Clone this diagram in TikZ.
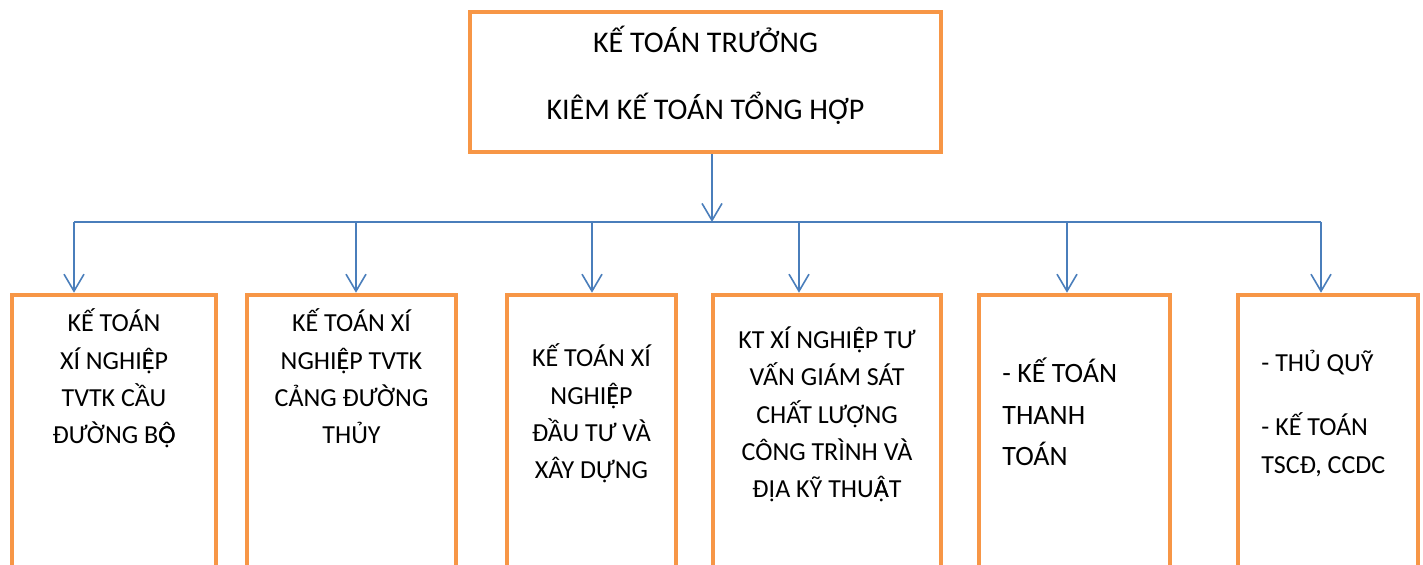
\documentclass[tikz,border=0pt]{standalone}
\usepackage{fontspec}
\setmainfont{Carlito}
\usetikzlibrary{arrows.meta,positioning}
\definecolor{orange6}{RGB}{247,150,70}
\definecolor{blue1}{RGB}{74,126,187}
% circumflex + dot below, stacked from two glyphs
\newcommand{\vnstack}[2]{{\ooalign{#1\cr#2\cr}}}

\begin{document}
\begin{tikzpicture}
          [x=0.5pt,y=-0.5pt,
            box/.style={rectangle,draw=orange6,line width=2.25pt,fill=white,inner sep=0pt},
            word/.style={inner sep=0pt,font=\fontsize{13}{18.7}\selectfont},
            arr/.style={draw=blue1,line width=0.8pt,-{Straight Barb[length=8.5pt,width=10pt]}},
          ]
          \useasboundingbox (0,0) rectangle (1423,565);

          % boxes
          \node[box,minimum width=235.5pt,minimum height=70pt] (top) at (705.5,82) {};
          \node[box,minimum width=102pt,minimum height=152.5pt] (b1) at (114,447.5) {};
          \node[box,minimum width=104.5pt,minimum height=152.5pt] (b2) at (351.5,447.5) {};
          \node[box,minimum width=84.5pt,minimum height=152.5pt] (b3) at (591.5,447.5) {};
          \node[box,minimum width=114pt,minimum height=152.5pt] (b4) at (827,447.5) {};
          \node[box,minimum width=95.5pt,minimum height=152.5pt] (b5) at (1074.5,447.5) {};
          \node[box,minimum width=90pt,minimum height=152.5pt] (b6) at (1328,447.5) {};

          % texts (anchored at the baseline of the last line)
          \node[word,align=center,anchor=base,font=\fontsize{15}{33.5}\selectfont] (ttop) at (705.5,120)
            {KẾ TOÁN TRƯỞNG\\KIÊM KẾ TOÁN TỔNG HỢP};
          \node[word,align=center,anchor=base] (t1) at (114,444)
            {KẾ TOÁN\\XÍ NGHI\vnstack{Ê}{Ẹ}P\\TVTK CẦU\\ĐƯỜNG B\vnstack{Ô}{Ọ}};
          \node[word,align=center,anchor=base] (t2) at (351.5,444)
            {KẾ TOÁN XÍ\\NGHI\vnstack{Ê}{Ẹ}P TVTK\\CẢNG ĐƯỜNG\\THỦY};
          \node[word,align=center,anchor=base] (t3) at (591.5,479)
            {KẾ TOÁN XÍ\\NGHI\vnstack{Ê}{Ẹ}P\\ĐẦU TƯ VÀ\\XÂY DỰNG};
          \node[word,align=center,anchor=base] (t4) at (827,498)
            {KT XÍ NGHI\vnstack{Ê}{Ẹ}P TƯ\\VẤN GIÁM SÁT\\CHẤT LƯỢNG\\CÔNG TRÌNH VÀ\\ĐỊA KỸ THU\vnstack{Â}{Ạ}T};
          \node[word,align=left,anchor=base west,font=\fontsize{14}{20.75}\selectfont] (t5) at (1002,466)
            {- KẾ TOÁN\\THANH\\TOÁN};
          \node[word,align=left,anchor=base west,font=\fontsize{13}{19}\selectfont] (t6) at (1261,474)
            {- THỦ QUỸ\\[13pt]- KẾ TOÁN\\TSCĐ, CCDC};

          % connectors
          \coordinate (bus) at (712,222);
          \coordinate (busl) at (74,222);
          \coordinate (busr) at (1321,222);
          \draw[arr] (top.south -| bus) -- (bus);
          \draw[blue1,line width=0.8pt] (busl) -- (busr);
          \foreach \x/\b in {74/b1,356/b2,592/b3,799/b4,1067/b5,1321/b6}{
            \coordinate (d\b) at (\x,222);
            \draw[arr] (d\b) -- (d\b |- \b.north);
          }
        \end{tikzpicture}
\end{document}
